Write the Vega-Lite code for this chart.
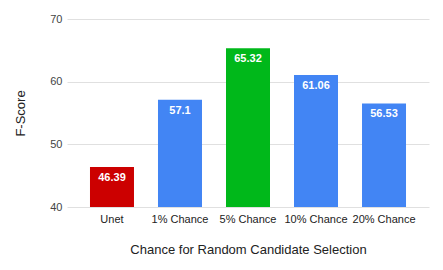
{
  "$schema": "https://vega.github.io/schema/vega-lite/v6.json",
  "width": 362,
  "height": 188,
  "autosize": "none",
  "padding": {"left": 67, "top": 19, "right": 14, "bottom": 63},
  "background": "white",
  "config": {"view": {"stroke": null}, "font": "Liberation Sans"},
  "data": {"values": [
    {"method": "Unet", "score": 46.39, "group": "baseline"},
    {"method": "1% Chance", "score": 57.1, "group": "other"},
    {"method": "5% Chance", "score": 65.32, "group": "best"},
    {"method": "10% Chance", "score": 61.06, "group": "other"},
    {"method": "20% Chance", "score": 56.53, "group": "other"}
  ]},
  "encoding": {
    "x": {"field": "method", "type": "nominal", "sort": null,
      "scale": {"paddingInner": 0.353, "paddingOuter": 0.338},
      "axis": {"title": "Chance for Random Candidate Selection", "labelAngle": 0, "labelFontSize": 11, "labelColor": "#222", "labelPadding": 6, "ticks": false, "domain": false, "titleFontSize": 13, "titleFontWeight": "normal", "titleColor": "#222", "titlePadding": 19}},
    "y": {"field": "score", "type": "quantitative",
      "scale": {"domain": [40, 70], "zero": false},
      "axis": {"title": "F-Score", "values": [40, 50, 60, 70], "labelFontSize": 11, "labelColor": "#444", "labelPadding": 5, "ticks": false, "domain": false, "gridColor": "#e0e0e0", "titleFontSize": 13, "titleFontWeight": "normal", "titleColor": "#222", "titleX": -40}}
  },
  "layer": [
    {"mark": {"type": "bar"},
      "encoding": {"y2": {"datum": 40},
        "color": {"field": "group", "type": "nominal", "legend": null,
        "scale": {"domain": ["baseline", "other", "best"], "range": ["#cc0000", "#4285f4", "#00b81a"]}}}},
    {"mark": {"type": "text", "baseline": "top", "dy": 5, "color": "white", "fontWeight": "bold", "fontSize": 11},
      "encoding": {"text": {"field": "score", "type": "quantitative"}}}
  ]
}
